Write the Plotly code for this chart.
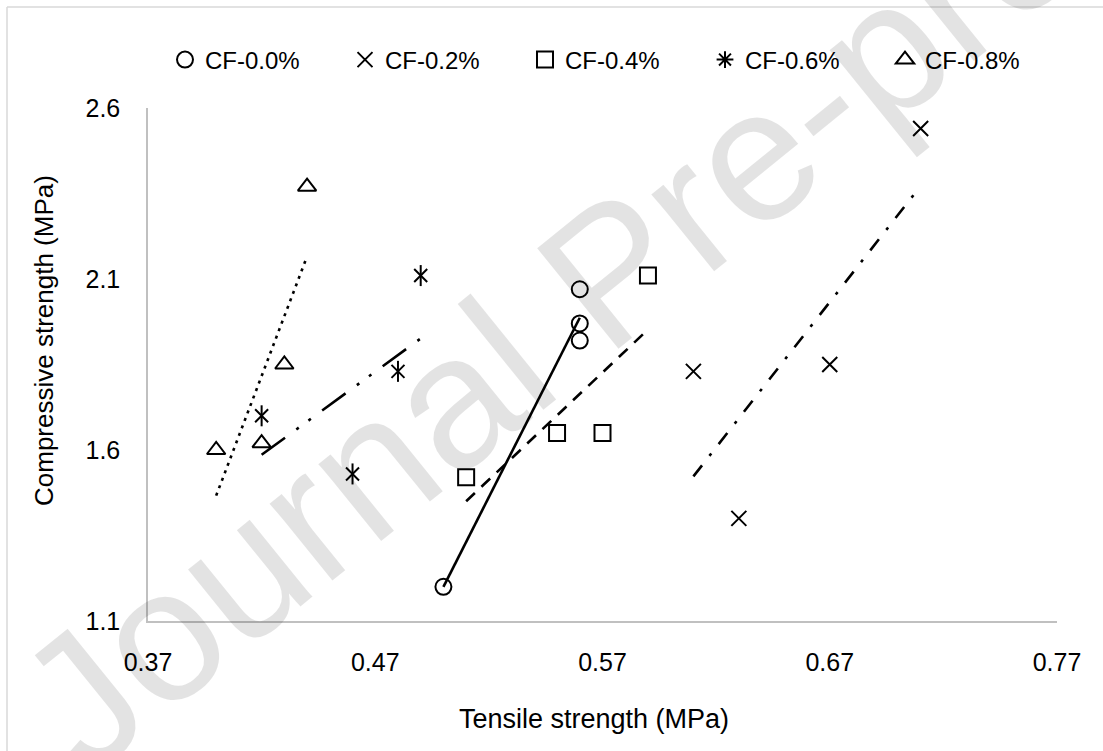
import numpy as np
import plotly.graph_objects as go

# ---- data ----
series_names = ["CF-0.0%", "CF-0.2%", "CF-0.4%", "CF-0.6%", "CF-0.8%"]
x_cf00 = [0.50, 0.56, 0.56, 0.56]
y_cf00 = [1.20, 2.07, 1.97, 1.92]
x_cf02 = [0.61, 0.63, 0.67, 0.71]
y_cf02 = [1.83, 1.40, 1.85, 2.54]
x_cf04 = [0.51, 0.55, 0.57, 0.59]
y_cf04 = [1.52, 1.65, 1.65, 2.11]
x_cf06 = [0.42, 0.46, 0.48, 0.49]
y_cf06 = [1.70, 1.53, 1.83, 2.11]
x_cf08 = [0.40, 0.42, 0.43, 0.44]
y_cf08 = [1.60, 1.62, 1.85, 2.37]
x_ticks = [0.37, 0.47, 0.57, 0.67, 0.77]
y_ticks = [1.1, 1.6, 2.1, 2.6]

xs = [x_cf00, x_cf02, x_cf04, x_cf06, x_cf08]
ys = [y_cf00, y_cf02, y_cf04, y_cf06, y_cf08]

# ---- styles ----
FONT = "Liberation Sans, Arial, sans-serif"
symbols = ["circle-open", "x-thin-open", "square-open", "asterisk-open", "triangle-up-open"]
sizes = [16, 15, 16, 15, 16]
dashes = ["solid", "14px,12px,3px,12px", "12px,9px", "29px,14px,3px,12px,3px,14px", "3px,5px"]

fig = go.Figure()

# trendlines (least-squares fits over each series' range)
for i in range(5):
    x = np.array(xs[i]); y = np.array(ys[i])
    k, b = np.polyfit(x, y, 1)
    xl = np.array([x.min(), x.max()])
    fig.add_trace(go.Scatter(x=xl, y=k * xl + b, mode="lines", showlegend=False,
                             hoverinfo="skip",
                             line=dict(color="black", width=2.6, dash=dashes[i])))

# markers
for i in range(5):
    if i == 3:
        # six-armed asterisk in the plot: x + vertical bar
        fig.add_trace(go.Scatter(x=xs[i], y=ys[i], mode="markers", showlegend=False,
                                 legendgroup=series_names[i],
                                 marker=dict(symbol="line-ns-open", size=15,
                                             color="black", line=dict(color="black", width=2))))
        fig.add_trace(go.Scatter(x=xs[i], y=ys[i], mode="markers", showlegend=False,
                                 legendgroup=series_names[i],
                                 marker=dict(symbol="x-thin-open", size=13,
                                             color="black", line=dict(color="black", width=2))))
        # legend entry
        fig.add_trace(go.Scatter(x=[None], y=[None], mode="markers", name=series_names[i],
                                 legendgroup=series_names[i],
                                 marker=dict(symbol="asterisk-open", size=14,
                                             color="black", line=dict(color="black", width=2))))
    else:
        fig.add_trace(go.Scatter(x=xs[i], y=ys[i], mode="markers", name=series_names[i],
                                 marker=dict(symbol=symbols[i], size=sizes[i],
                                             color="black", line=dict(color="black", width=2))))

W, H = 1103, 751
L, R, T, B = 148, 46, 108, 130
pw, ph = W - L - R, H - T - B

def px(xp):
    return (xp - L) / pw

def py(yp):
    return (H - B - yp) / ph

fig.update_layout(
    width=W, height=H,
    margin=dict(l=L, r=R, t=T, b=B),
    paper_bgcolor="white", plot_bgcolor="white",
    font=dict(family=FONT, color="black", size=24),
    showlegend=True,
    legend=dict(orientation="h", x=px(165), y=py(60), xanchor="left", yanchor="middle",
                font=dict(size=24, family=FONT), itemsizing="trace",
                entrywidth=135, traceorder="normal", bgcolor="rgba(0,0,0,0)"),
    xaxis=dict(range=[0.37, 0.77], tickvals=x_ticks, ticktext=[f"{v:.2f}" for v in x_ticks],
               showgrid=False, zeroline=False, showline=True, linecolor="#C0C0C0", linewidth=1.5,
               ticks="", ticklabelstandoff=18, tickfont=dict(size=25)),
    yaxis=dict(range=[1.1, 2.6], tickvals=y_ticks, ticktext=[f"{v:.1f}" for v in y_ticks],
               showgrid=False, zeroline=False, showline=True, linecolor="#C0C0C0", linewidth=1.5,
               ticks="", ticklabelstandoff=21, tickfont=dict(size=25)),
    shapes=[
        dict(type="line", xref="paper", yref="paper", x0=px(7), x1=px(7), y0=py(7), y1=py(760),
             line=dict(color="#D9D9D9", width=1.5)),
        dict(type="line", xref="paper", yref="paper", x0=px(7), x1=px(1110), y0=py(7), y1=py(7),
             line=dict(color="#D9D9D9", width=1.5)),
    ],
    annotations=[
        dict(text="Journal Pre-proof", xref="paper", yref="paper", x=px(610), y=py(272),
             showarrow=False, textangle=-39,
             font=dict(size=188, family=FONT, color="rgba(0,0,0,0.11)"),
             xanchor="center", yanchor="middle"),
        dict(text="Tensile strength (MPa)", xref="paper", yref="paper", x=px(594), y=py(719),
             showarrow=False, font=dict(size=27, family=FONT, color="black"),
             xanchor="center", yanchor="middle"),
        dict(text="Compressive strength (MPa)", xref="paper", yref="paper", x=px(44), y=py(341),
             showarrow=False, textangle=-90, font=dict(size=26, family=FONT, color="black"),
             xanchor="center", yanchor="middle"),
    ],
)

fig.write_html("out.html")
